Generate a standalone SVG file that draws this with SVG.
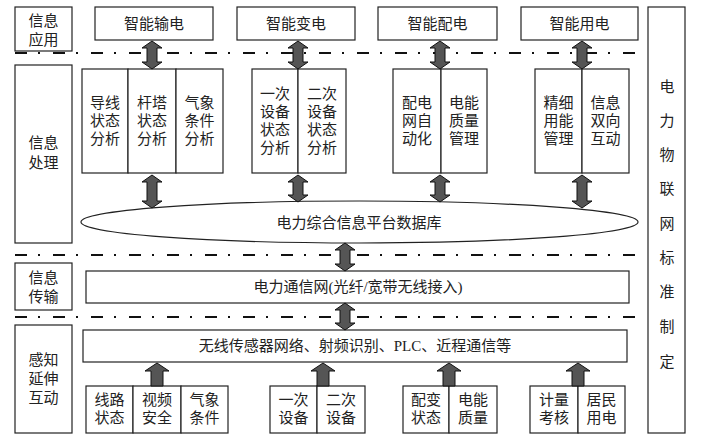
<svg xmlns="http://www.w3.org/2000/svg" width="711" height="440" viewBox="0 0 711 440">
<style>
.b{fill:#fff;stroke:#222;stroke-width:1.2}
.t{font-family:"Liberation Serif","Noto Sans CJK SC",serif;font-size:15px;fill:#222;text-anchor:middle;dominant-baseline:central}
.d{stroke:#111;stroke-width:2;stroke-dasharray:12 11 2 13;fill:none}
.a{fill:#555;stroke:#111;stroke-width:1}
</style>
<rect width="711" height="440" fill="#fff"/>
<g id="dividers">
<line class="d" x1="15" y1="53" x2="636" y2="53"/>
<line class="d" x1="15" y1="255" x2="636" y2="255"/>
<line class="d" x1="15" y1="317" x2="636" y2="317"/>
</g>
<g id="label-app"><rect class="b" x="15" y="7" width="57" height="44"/><text class="t" x="43.5" y="21">信息</text><text class="t" x="43.5" y="40">应用</text></g>
<g id="label-proc"><rect class="b" x="15" y="65" width="57" height="178"/><text class="t" x="43.5" y="143">信息</text><text class="t" x="43.5" y="163">处理</text></g>
<g id="label-trans"><rect class="b" x="15" y="263" width="57" height="47"/><text class="t" x="43.5" y="278">信息</text><text class="t" x="43.5" y="297">传输</text></g>
<g id="label-sense"><rect class="b" x="15" y="325" width="57" height="108"/><text class="t" x="43.5" y="360">感知</text><text class="t" x="43.5" y="379">延伸</text><text class="t" x="43.5" y="398">互动</text></g>
<g id="standard"><rect class="b" x="648" y="7" width="37" height="426"/>
<text class="t" x="667" y="87">电</text><text class="t" x="667" y="121">力</text><text class="t" x="667" y="155">物</text><text class="t" x="667" y="189">联</text><text class="t" x="667" y="224">网</text><text class="t" x="667" y="258">标</text><text class="t" x="667" y="292">准</text><text class="t" x="667" y="327">制</text><text class="t" x="667" y="362">定</text></g>
<g id="app-trans"><rect class="b" x="95" y="7" width="118" height="33"/><text class="t" x="154" y="24">智能输电</text></g>
<g id="app-sub"><rect class="b" x="237" y="7" width="118" height="33"/><text class="t" x="296" y="24">智能变电</text></g>
<g id="app-dist"><rect class="b" x="378" y="7" width="119" height="33"/><text class="t" x="437.5" y="24">智能配电</text></g>
<g id="app-use"><rect class="b" x="521" y="7" width="117" height="33"/><text class="t" x="579.5" y="24">智能用电</text></g>
<g id="proc-trans">
<rect class="b" x="82" y="69" width="46" height="104"/><rect class="b" x="128" y="69" width="48" height="104"/><rect class="b" x="176" y="69" width="47" height="104"/>
<text class="t" x="105" y="103">导线</text><text class="t" x="105" y="121">状态</text><text class="t" x="105" y="139">分析</text>
<text class="t" x="152" y="103">杆塔</text><text class="t" x="152" y="121">状态</text><text class="t" x="152" y="139">分析</text>
<text class="t" x="199.5" y="103">气象</text><text class="t" x="199.5" y="121">条件</text><text class="t" x="199.5" y="139">分析</text>
</g>
<g id="proc-sub">
<rect class="b" x="252" y="69" width="46" height="104"/><rect class="b" x="298" y="69" width="48" height="104"/>
<text class="t" x="275" y="94">一次</text><text class="t" x="275" y="112">设备</text><text class="t" x="275" y="130">状态</text><text class="t" x="275" y="148">分析</text>
<text class="t" x="322" y="94">二次</text><text class="t" x="322" y="112">设备</text><text class="t" x="322" y="130">状态</text><text class="t" x="322" y="148">分析</text>
</g>
<g id="proc-dist">
<rect class="b" x="393" y="69" width="48" height="104"/><rect class="b" x="441" y="69" width="46" height="104"/>
<text class="t" x="417" y="103">配电</text><text class="t" x="417" y="121">网自</text><text class="t" x="417" y="139">动化</text>
<text class="t" x="464" y="103">电能</text><text class="t" x="464" y="121">质量</text><text class="t" x="464" y="139">管理</text>
</g>
<g id="proc-use">
<rect class="b" x="535" y="69" width="47" height="104"/><rect class="b" x="582" y="69" width="47" height="104"/>
<text class="t" x="558.5" y="103">精细</text><text class="t" x="558.5" y="121">用能</text><text class="t" x="558.5" y="139">管理</text>
<text class="t" x="605.5" y="103">信息</text><text class="t" x="605.5" y="121">双向</text><text class="t" x="605.5" y="139">互动</text>
</g>
<g id="database"><ellipse class="b" cx="359.5" cy="222" rx="278.5" ry="21"/><text class="t" x="359" y="223">电力综合信息平台数据库</text></g>
<g id="comm"><rect class="b" x="86" y="271" width="543" height="32"/><text class="t" x="358" y="287">电力通信网(光纤/宽带无线接入)</text></g>
<g id="sensor"><rect class="b" x="83" y="330" width="544" height="32"/><text class="t" x="355" y="346">无线传感器网络、射频识别、PLC、近程通信等</text></g>
<g id="sense-trans">
<rect class="b" x="86" y="386" width="47" height="47"/><rect class="b" x="133" y="386" width="48" height="47"/><rect class="b" x="181" y="386" width="47" height="47"/>
<text class="t" x="109.5" y="400">线路</text><text class="t" x="109.5" y="418">状态</text>
<text class="t" x="157" y="400">视频</text><text class="t" x="157" y="418">安全</text>
<text class="t" x="204.5" y="400">气象</text><text class="t" x="204.5" y="418">条件</text>
</g>
<g id="sense-sub">
<rect class="b" x="270" y="386" width="47" height="47"/><rect class="b" x="317" y="386" width="48" height="47"/>
<text class="t" x="293.5" y="400">一次</text><text class="t" x="293.5" y="418">设备</text>
<text class="t" x="341" y="400">二次</text><text class="t" x="341" y="418">设备</text>
</g>
<g id="sense-dist">
<rect class="b" x="403" y="386" width="46" height="47"/><rect class="b" x="449" y="386" width="48" height="47"/>
<text class="t" x="426" y="400">配变</text><text class="t" x="426" y="418">状态</text>
<text class="t" x="473" y="400">电能</text><text class="t" x="473" y="418">质量</text>
</g>
<g id="sense-use">
<rect class="b" x="530" y="386" width="48" height="47"/><rect class="b" x="578" y="386" width="47" height="47"/>
<text class="t" x="554" y="400">计量</text><text class="t" x="554" y="418">考核</text>
<text class="t" x="601.5" y="400">居民</text><text class="t" x="601.5" y="418">用电</text>
</g>
<g id="connectors">
<path class="a" d="M152,41 L162,48 L157,48 L157,62 L162,62 L152,69 L142,62 L147,62 L147,48 L142,48 Z"/>
<path class="a" d="M298,41 L308,48 L303,48 L303,62 L308,62 L298,69 L288,62 L293,62 L293,48 L288,48 Z"/>
<path class="a" d="M440,41 L450,48 L445,48 L445,62 L450,62 L440,69 L430,62 L435,62 L435,48 L430,48 Z"/>
<path class="a" d="M582,41 L592,48 L587,48 L587,62 L592,62 L582,69 L572,62 L577,62 L577,48 L572,48 Z"/>
<path class="a" d="M152,175 L162,182 L157,182 L157,201 L162,201 L152,208 L142,201 L147,201 L147,182 L142,182 Z"/>
<path class="a" d="M298,175 L308,182 L303,182 L303,195 L308,195 L298,202 L288,195 L293,195 L293,182 L288,182 Z"/>
<path class="a" d="M440,175 L450,182 L445,182 L445,195 L450,195 L440,202 L430,195 L435,195 L435,182 L430,182 Z"/>
<path class="a" d="M582,175 L592,182 L587,182 L587,201 L592,201 L582,208 L572,201 L577,201 L577,182 L572,182 Z"/>
<path class="a" d="M345,243 L355,250 L350,250 L350,264 L355,264 L345,271 L335,264 L340,264 L340,250 L335,250 Z"/>
<path class="a" d="M345,303 L355,310 L350,310 L350,323 L355,323 L345,330 L335,323 L340,323 L340,310 L335,310 Z"/>
<path class="a" d="M157,363 L169,371 L163,371 L163,386 L151,386 L151,371 L145,371 Z"/>
<path class="a" d="M323,363 L335,371 L329,371 L329,386 L317,386 L317,371 L311,371 Z"/>
<path class="a" d="M449,363 L461,371 L455,371 L455,386 L443,386 L443,371 L437,371 Z"/>
<path class="a" d="M578,363 L590,371 L584,371 L584,386 L572,386 L572,371 L566,371 Z"/>
</g>
</svg>
